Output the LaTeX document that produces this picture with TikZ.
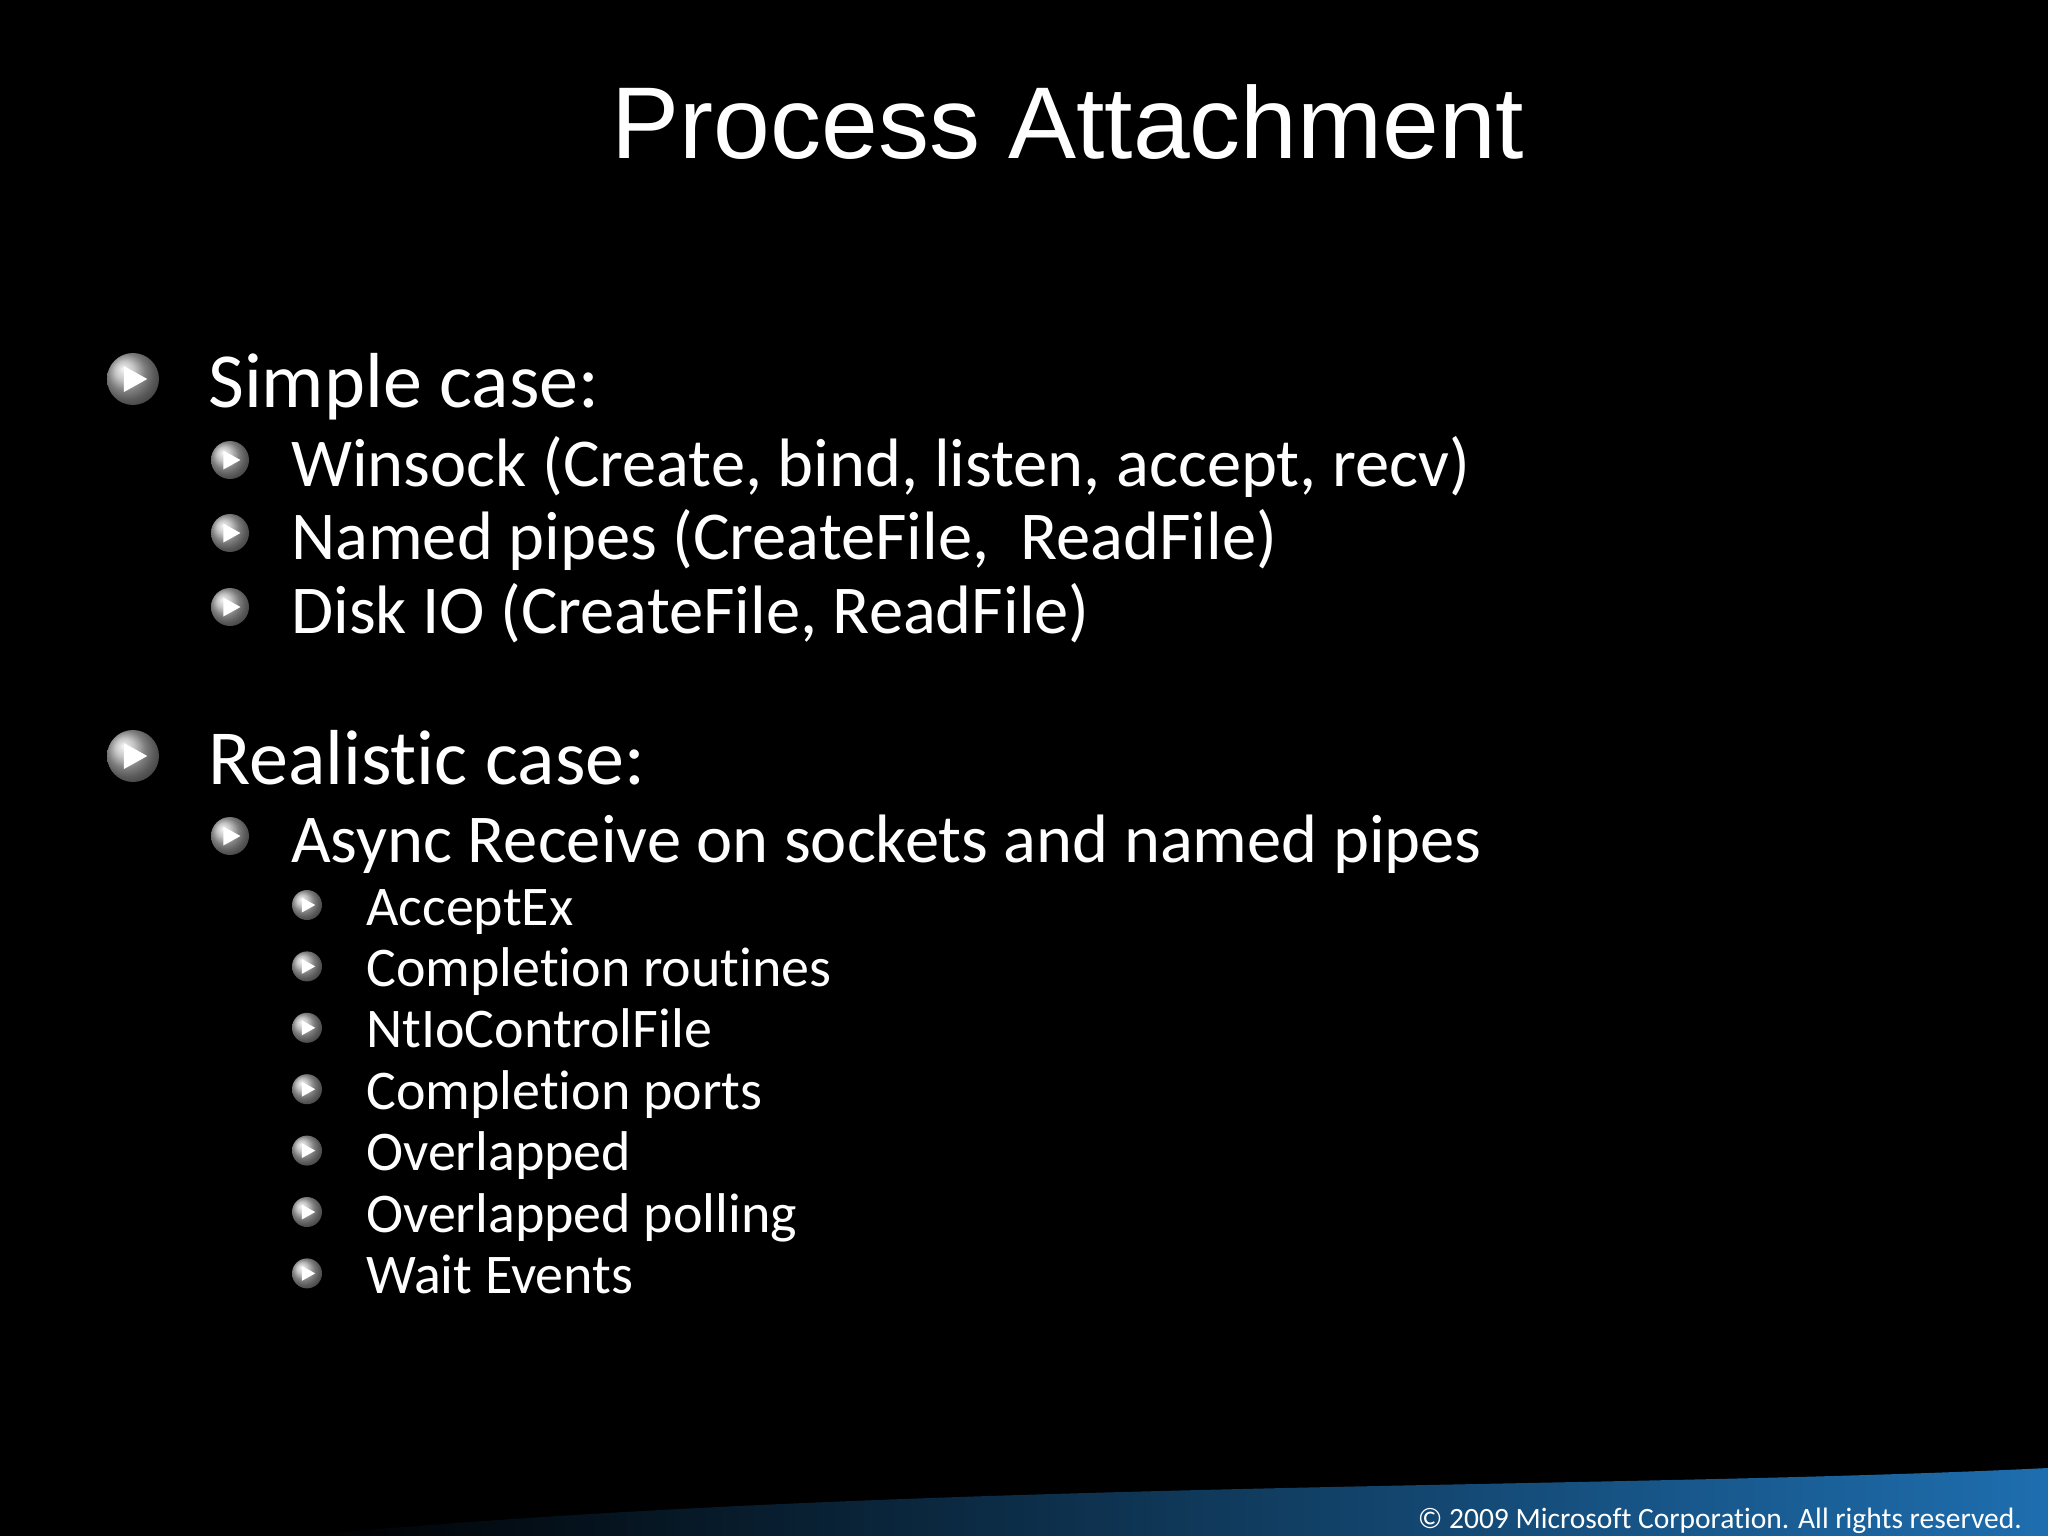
\documentclass[tikz,border=0pt]{standalone}
\usepackage{fontspec}
\setmainfont{Carlito}[RawFeature={-liga}]
\newfontfamily\titlefont{Liberation Sans}
\usetikzlibrary{shadings,calc}
\definecolor{bandblue}{RGB}{30,110,175}
\tikzset{
 lone/.style={anchor=base west,text=white,inner sep=0,font=\fontsize{78}{90}\selectfont},
 ltwo/.style={anchor=base west,text=white,inner sep=0,font=\fontsize{68.5}{80}\selectfont},
 lthree/.style={anchor=base west,text=white,inner sep=0,font=\fontsize{56}{64}\selectfont},
}
\newcommand{\bul}[3]{%
 \shade[ball color=gray!60] (#1,#2) circle (#3pt);
 \fill[white] ($(#1,#2)+(-0.35*#3,-0.5*#3)$) -- ($(#1,#2)+(0.55*#3,0)$) -- ($(#1,#2)+(-0.35*#3,0.5*#3)$) -- cycle;}
\begin{document}
\begin{tikzpicture}[x=1pt,y=-1pt]
\fill[black] (0,0) rectangle (2048,1536);
\useasboundingbox (0,0) rectangle (2048,1536);
\shade[left color=black,right color=bandblue] (300,1536) .. controls (900,1480) and (1600,1490) .. (2048,1468) -- (2048,1536) -- cycle;
\node[anchor=base,text=white,inner sep=0,font=\titlefont\fontsize{102}{120}\selectfont] (title) at (1068,159) {Process Attachment};
\bul{133}{379}{26}
\node[lone] (s) at (208,407) {Simple case:};
\bul{230}{460}{19}
\node[ltwo] (s1) at (291,486) {Winsock (Create, bind, listen, accept, recv)};
\bul{230}{533}{19}
\node[ltwo] (s2) at (291,559) {Named pipes (CreateFile,\ \ ReadFile)};
\bul{230}{607}{19}
\node[ltwo] (s3) at (291,633) {Disk IO (CreateFile, ReadFile)};
\bul{133}{756}{26}
\node[lone] (r) at (208,784) {Realistic case:};
\bul{230}{836}{19}
\node[ltwo] (r1) at (291,862) {Async Receive on sockets and named pipes};
\foreach \t [count=\i from 0] in {AcceptEx,Completion routines,NtIoControlFile,Completion ports,Overlapped,Overlapped polling,Wait Events}{
 \bul{307}{905+61.4*\i}{15}
 \node[lthree] (a\i) at (366,925+61.4*\i) {\t};
}
\node[anchor=base east,text=white,inner sep=0,font=\fontsize{29.5}{32}\selectfont] (foot) at (2022,1528) {© 2009 Microsoft Corporation. All rights reserved.};
\end{tikzpicture}
\end{document}
